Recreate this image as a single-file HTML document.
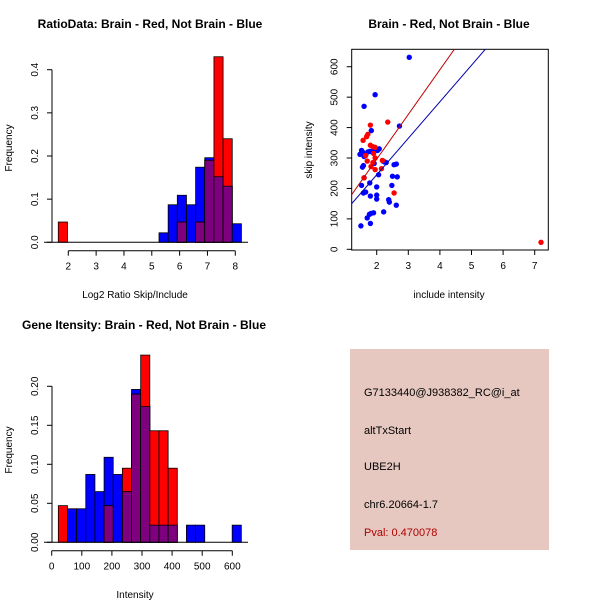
<!DOCTYPE html>
<html><head><meta charset="utf-8">
<style>
body{margin:0;background:#fff;}
svg{display:block;font-family:"Liberation Sans",sans-serif;}
</style></head>
<body>
<svg id="chart" width="600" height="600" viewBox="0 0 600 600">
<rect width="600" height="600" fill="#fff"/>
<g id="p1"></g>
<g id="p2"></g>
<g id="p3"></g>
<g>
<rect x="350" y="349" width="199" height="201" fill="#e6c8c0"/>
<text x="364" y="396" font-size="11" fill="#000">G7133440@J938382_RC@i_at</text>
<text x="364" y="434" font-size="11" fill="#000">altTxStart</text>
<text x="364" y="470" font-size="11" fill="#000">UBE2H</text>
<text x="364" y="508" font-size="11" fill="#000">chr6.20664-1.7</text>
<text x="364" y="536" font-size="11" fill="#b00000">Pval: 0.470078</text>
</g>
</svg>
<script>
// ---- Plot 1 data: log2 ratio histogram ----
const p1BinStart = 1.64, p1BinWidth = 0.329;
const p1Red  = [0.047,0,0,0,0,0,0,0,0,0,0,0,0,0.047,0,0.047,0.19,0.43,0.24,0];
const p1Blue = [0,0,0,0,0,0,0,0,0,0,0,0.022,0.087,0.109,0.087,0.174,0.196,0.152,0.130,0.043];
const p1XTicks = [2,3,4,5,6,7,8];
const p1YTicks = [0.0,0.1,0.2,0.3,0.4];
const p1YLabels = ["0.0","0.1","0.2","0.3","0.4"];
// ---- Plot 3 data: gene intensity histogram ----
const p3BinStart = 22, p3BinWidth = 30.4;
const p3Red  = [0.047,0,0,0,0,0.047,0,0.095,0.19,0.24,0.143,0.143,0.095,0,0,0,0,0,0,0];
const p3Blue = [0,0.043,0.043,0.087,0.065,0.109,0.087,0.065,0.196,0.174,0.022,0.022,0.022,0,0.022,0.022,0,0,0,0.022];
const p3XTicks = [0,100,200,300,400,500,600];
const p3YTicks = [0,0.05,0.10,0.15,0.20];
const p3YLabels = ["0.00","0.05","0.10","0.15","0.20"];
// ---- Plot 2 data: scatter ----
const blueX = [1.47,1.52,1.55,1.60,1.55,1.58,1.60,1.52,1.58,1.65,1.78,1.80,1.72,1.78,1.85,1.92,1.98,2.03,2.08,2.06,2.0,2.0,2.0,2.2,2.25,2.3,2.55,2.62,2.65,2.5,2.48,2.38,2.4,2.62,2.22,1.9,1.82,1.77,1.7,1.8,1.5,1.83,1.95,1.6,3.03,2.72,1.92,1.65];
const blueY = [312,325,320,305,270,275,235,210,185,188,218,175,320,322,320,282,325,325,330,245,205,178,165,290,287,285,278,280,238,240,210,163,155,145,123,120,118,115,103,85,77,390,508,470,631,405,330,312];
const redX = [1.8,2.35,1.72,1.68,1.57,1.8,1.88,1.95,1.65,1.7,1.82,1.95,2.18,1.95,2.15,1.6,1.88,2.55,7.2,1.9];
const redY = [408,418,378,370,358,342,337,335,308,290,272,300,292,262,265,235,285,185,23,315];
const redLine = [180,147];   // intercept at x=1.21, slope
const blueLine = [150,120];
const p2XTicks = [2,3,4,5,6,7];
const p2YTicks = [0,100,200,300,400,500,600];

const NS="http://www.w3.org/2000/svg";
function mk(parent,tag,attrs){const e=document.createElementNS(NS,tag);for(const k in attrs)e.setAttribute(k,attrs[k]);parent.appendChild(e);return e;}
function txt(parent,x,y,s,size,opts){const e=mk(parent,'text',Object.assign({x:x,y:y,'font-size':size,'text-anchor':'middle',fill:'#000'},opts||{}));e.textContent=s;return e;}

function hist(g,cfg){
  const X=v=>cfg.x0+(v-cfg.xv0)*cfg.xs, Y=v=>cfg.y0-v*cfg.ys;
  for(let i=0;i<cfg.red.length;i++){
    const l=X(cfg.bs+i*cfg.bw), r=X(cfg.bs+(i+1)*cfg.bw);
    const b=cfg.blue[i], rd=cfg.red[i];
    if(b>0){const e=mk(g,'rect',{x:l,y:Y(b),width:r-l,height:Y(0)-Y(b),fill:'#0000ff',stroke:'#000','stroke-width':0.8});
      
      }
    if(rd>0){const e=mk(g,'rect',{x:l,y:Y(rd),width:r-l,height:Y(0)-Y(rd),fill:'#ff0000',stroke:'#000','stroke-width':0.8});
      
      }
    const m=Math.min(b,rd);
    if(m>0){const e=mk(g,'rect',{x:l,y:Y(m),width:r-l,height:Y(0)-Y(m),fill:'#7f007f',stroke:'#000','stroke-width':0.8});
      
      }
  }
  const base=mk(g,'line',{x1:cfg.baseL,x2:cfg.baseR,y1:Y(0),y2:Y(0),stroke:'#000'});
  
  
  const ya=mk(g,'line',{x1:cfg.yAxX,x2:cfg.yAxX,y1:Y(cfg.yt[0]),y2:Y(cfg.yt[cfg.yt.length-1]),stroke:'#000'});
  
  
  cfg.yt.forEach((v,i)=>{
    mk(g,'line',{x1:cfg.yAxX-5,x2:cfg.yAxX,y1:Y(v),y2:Y(v),stroke:'#000'});
    const t=txt(g,cfg.yAxX-14,Y(v),cfg.yl[i],10,{transform:`rotate(-90 ${cfg.yAxX-14} ${Y(v)})`});
    
    
  });
  const xa=mk(g,'line',{x1:X(cfg.xt[0]),x2:X(cfg.xt[cfg.xt.length-1]),y1:cfg.xAxY,y2:cfg.xAxY,stroke:'#000'});
  
  
  cfg.xt.forEach(v=>{
    mk(g,'line',{x1:X(v),x2:X(v),y1:cfg.xAxY,y2:cfg.xAxY+5,stroke:'#000'});
    const t=txt(g,X(v),cfg.xAxY+19,String(v),10);
    
    
  });
}

const g1=document.getElementById('p1');
hist(g1,{x0:68.3,xv0:2,xs:27.83,y0:242.3,ys:431.5,bs:p1BinStart,bw:p1BinWidth,red:p1Red,blue:p1Blue,
  baseL:44,baseR:248,yAxX:52,yt:p1YTicks,yl:p1YLabels,xt:p1XTicks,xAxY:250.7});
const g3=document.getElementById('p3');
hist(g3,{x0:51.7,xv0:0,xs:0.301,y0:542.3,ys:780,bs:p3BinStart,bw:p3BinWidth,red:p3Red,blue:p3Blue,
  baseL:44,baseR:248,yAxX:52,yt:p3YTicks,yl:p3YLabels,xt:p3XTicks,xAxY:550.7});

[[g1,150,28,'RatioData: Brain - Red, Not Brain - Blue','plot1-title'],
 [g3,144,329,'Gene Itensity: Brain - Red, Not Brain - Blue','plot3-title']].forEach(a=>{
  const t=txt(a[0],a[1],a[2],a[3],12,{'font-weight':'bold'});
  
  
});
let t;
t=txt(g1,135,298,'Log2 Ratio Skip/Include',10);


t=txt(g1,12,148,'Frequency',10,{transform:'rotate(-90 12 148)'});


t=txt(g3,135,598,'Intensity',10);


t=txt(g3,12,450,'Frequency',10,{transform:'rotate(-90 12 450)'});



const g2=document.getElementById('p2');
const bx0=351.7,bx1=548.3,by0=49.3,by1=250;
const SX=v=>376.7+(v-2)*31.6, SY=v=>249.3-v*0.3043;
const box=mk(g2,'rect',{x:bx0,y:by0,width:bx1-bx0,height:by1-by0,fill:'none',stroke:'#000'});


mk(g2,'clipPath',{id:'clip2'}).appendChild(document.createElementNS(NS,'rect'));
const cr=document.querySelector('#clip2 rect');cr.setAttribute('x',bx0);cr.setAttribute('y',by0);cr.setAttribute('width',bx1-bx0);cr.setAttribute('height',by1-by0);
const pts=mk(g2,'g',{'clip-path':'url(#clip2)'});
blueX.forEach((x,i)=>{const c=mk(pts,'circle',{cx:SX(x),cy:SY(blueY[i]),r:2.7,fill:'#0000ff'});
  
  });
redX.forEach((x,i)=>{const c=mk(pts,'circle',{cx:SX(x),cy:SY(redY[i]),r:2.7,fill:'#ff0000'});
  
  });
[[redLine,'#c00000','red-fit-line'],[blueLine,'#0000b0','blue-fit-line']].forEach(L=>{
  const xa=1.21,xb=8;
  const l=mk(pts,'line',{x1:SX(xa),y1:SY(L[0][0]),x2:SX(xb),y2:SY(L[0][0]+L[0][1]*(xb-xa)),stroke:L[1],'stroke-width':1});
  
  
});
p2XTicks.forEach(v=>{
  mk(g2,'line',{x1:SX(v),x2:SX(v),y1:by1,y2:by1+5,stroke:'#000'});
  const t=txt(g2,SX(v),by1+19,String(v),10);
  
  
});
p2YTicks.forEach(v=>{
  mk(g2,'line',{x1:bx0-5,x2:bx0,y1:SY(v),y2:SY(v),stroke:'#000'});
  const t=txt(g2,bx0-14,SY(v),String(v),10,{transform:`rotate(-90 ${bx0-14} ${SY(v)})`});
  
  
});
t=txt(g2,449,28,'Brain - Red, Not Brain - Blue',12,{'font-weight':'bold'});


t=txt(g2,449,298,'include intensity',10);


t=txt(g2,312,150,'skip intensity',10,{transform:'rotate(-90 312 150)'});


</script>
</body></html>
